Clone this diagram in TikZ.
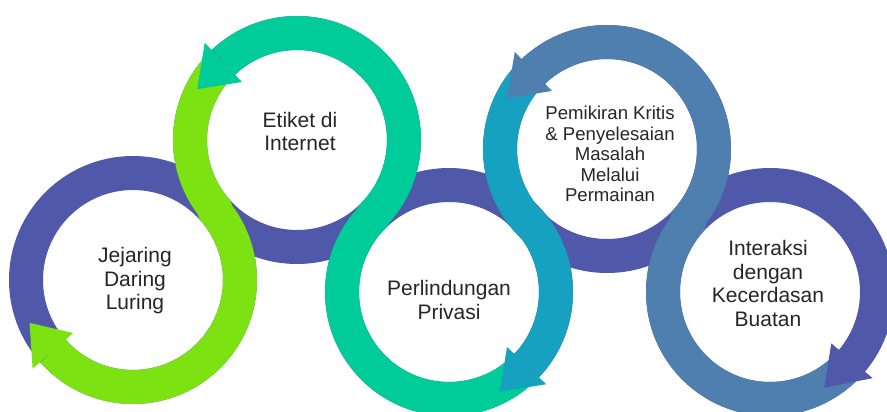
\documentclass[tikz,border=0pt]{standalone}
\usepackage{fontspec}
\setmainfont{Liberation Sans}
\usetikzlibrary{calc}
\definecolor{ringpurple}{HTML}{5058A9}
\definecolor{ringgreen}{HTML}{7CE212}
\definecolor{ringteal}{HTML}{00CC99}
\definecolor{ringblue}{HTML}{16A1C1}
\definecolor{ringsteel}{HTML}{4F7FAE}
\definecolor{txtgray}{HTML}{262626}

\begin{document}
\begin{tikzpicture}[x=0.75pt,y=0.75pt,
  band/.style={line width=25.5pt,line join=round},
  ringtext/.style={align=center,text=txtgray,font=\fontsize{15.75}{17.6}\selectfont}]
\useasboundingbox (0,0) rectangle (887,411);
\clip (0,0) rectangle (887,411);
\coordinate (c1) at (133,131);
\coordinate (c2) at (297,271);
\coordinate (c3) at (449,119);
\coordinate (c4) at (607,262);
\coordinate (c5) at (770,119);
\foreach \c in {c1,c2,c3,c4,c5}
  \draw[band,ringpurple] (\c) circle[radius=107];
\draw[band,ringgreen] ($(c2)+(137:107)$) arc[start angle=137,end angle=220.5,radius=107]
  -- ($(c1)+(40.5:107)$) arc[start angle=40.5,end angle=-138.5,radius=107];
\fill[ringgreen] ($(c1)+(221.5:80)$) -- ($(c1)+(202.5:112)$) -- ($(c1)+(221.5:134)$) -- cycle;
\draw[band,ringteal] ($(c2)+(133.5:107)$) arc[start angle=133.5,end angle=-45,radius=107]
  -- ($(c3)+(135:107)$) arc[start angle=135,end angle=313,radius=107];
\fill[ringteal] ($(c2)+(133.5:80)$) -- ($(c2)+(153:112)$) -- ($(c2)+(133.5:134)$) -- cycle;
\draw[band,ringblue] ($(c4)+(137:107)$) arc[start angle=137,end angle=222.1,radius=107]
  -- ($(c3)+(42.1:107)$) arc[start angle=42.1,end angle=-43.5,radius=107];
\fill[ringblue] ($(c3)+(-43.5:80)$) -- ($(c3)+(-63:112)$) -- ($(c3)+(-43.5:134)$) -- cycle;
\draw[band,ringsteel] ($(c4)+(133.5:107)$) arc[start angle=133.5,end angle=-41.3,radius=107]
  -- ($(c5)+(138.7:107)$) arc[start angle=138.7,end angle=317,radius=107];
\fill[ringsteel] ($(c4)+(133.5:80)$) -- ($(c4)+(153:112)$) -- ($(c4)+(133.5:134)$) -- cycle;
\fill[ringpurple] ($(c5)+(-40:80)$) -- ($(c5)+(-60.5:110)$) -- ($(c5)+(-40:134)$) -- cycle;
\node[ringtext] (jejaring) at (135,130) {Jejaring\\Daring\\Luring};
\node[ringtext] (etiket) at (300,279.5) {Etiket di\\Internet};
\node[ringtext] (privasi) at (449,111) {Perlindungan\\Privasi};
\node[ringtext,font=\fontsize{13.95}{15.45}\selectfont] (pemikiran) at (610,257) {Pemikiran Kritis\\\& Penyelesaian\\Masalah\\Melalui\\Permainan};
\node[ringtext] (interaksi) at (768,127.5) {Interaksi\\dengan\\Kecerdasan\\Buatan};
\end{tikzpicture}
\end{document}
